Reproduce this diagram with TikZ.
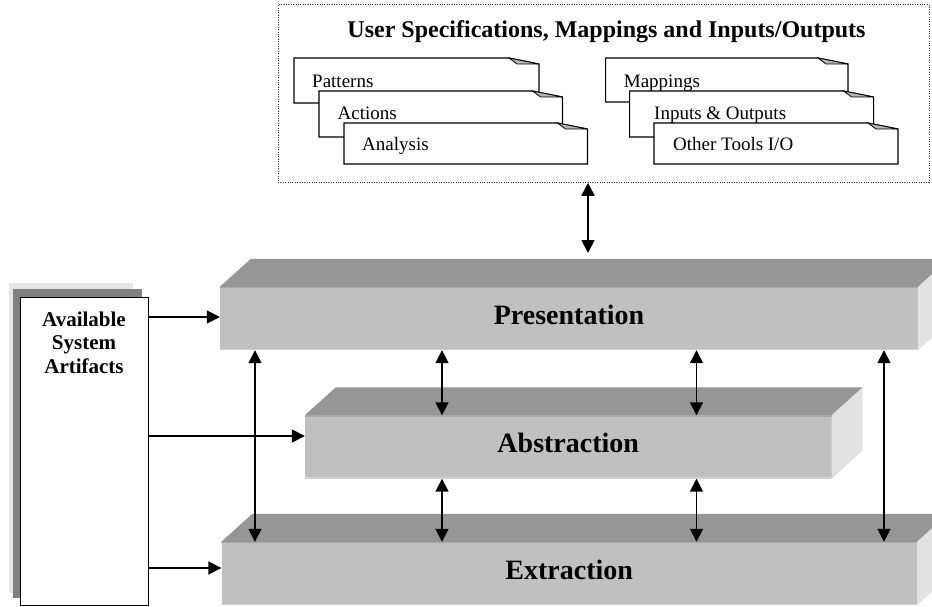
\documentclass[tikz,border=0pt]{standalone}
\usepackage{fontspec}
\setmainfont{Liberation Serif}
\usetikzlibrary{arrows.meta,calc}
\definecolor{topgray}{HTML}{969696}
\definecolor{frontgray}{HTML}{C0C0C0}
\definecolor{sidegray}{HTML}{E2E2E2}
\definecolor{edgedark}{HTML}{A9A9A9}
\definecolor{edgelight}{HTML}{D2D2D2}
\definecolor{shadowdark}{HTML}{808080}
\definecolor{shadowlight}{HTML}{E6E6E6}
\definecolor{flapgray}{HTML}{B4B4B4}
\newcommand\mkpage[4]{%
  \filldraw[pagebox] (#1,#2) -- (#3-30,#2) -- (#3,#2+6) -- (#3,#4) -- (#1,#4) -- cycle;
  \filldraw[flapbox] (#3-30,#2) -- (#3,#2+6) -- (#3-22,#2+6) -- cycle;}
\newcommand\mkslab[1]{%
  \fill[topgray] (#1.north west) -- ++(31,-28) -- ($(#1.north east)+(31,-28)$) -- (#1.north east) -- cycle;
  \fill[sidegray] (#1.north east) -- ++(31,-28) -- ++(0,63) -- (#1.south east) -- cycle;
  \draw[edgedark,line width=1.5pt] ([yshift=-0.75pt]#1.north west) -- ([yshift=-0.75pt]#1.north east);
  \draw[edgelight,line width=1.5pt] ([yshift=0.75pt]#1.south west) -- ([yshift=0.75pt]#1.south east);}
\begin{document}
\begin{tikzpicture}[x=1pt,y=-1pt,
  conn/.style={line width=1.7pt,-{Triangle[length=13pt,width=13pt]}},
  dconn/.style={line width=1.7pt,{Triangle[length=13pt,width=13pt]}-{Triangle[length=13pt,width=13pt]}},
  slabface/.style={fill=frontgray,inner sep=0pt,minimum height=63pt},
  slablabel/.style={font=\fontsize{28}{32}\selectfont\bfseries, yshift=4pt, inner sep=0pt},
  doctext/.style={font=\fontsize{19}{22}\selectfont, anchor=base west, inner sep=0pt},
  pagebox/.style={fill=white,draw=black,line width=1.1pt,line join=miter},
  flapbox/.style={fill=flapgray,draw=black,line width=0.8pt,line join=miter},
]
\useasboundingbox (0,0) rectangle (932,607);
\clip (0,0) rectangle (932,607);

% specification box
\node[draw=black!80, dash pattern=on 0.8pt off 1.6pt, line width=0.8pt, minimum width=651pt, minimum height=178pt, anchor=north west, inner sep=0pt] (spec) at (277.6,4) {};
\node[font=\fontsize{24}{28}\selectfont\bfseries, anchor=base, inner sep=0pt] (title) at (606.5,37.5) {User Specifications, Mappings and Inputs/Outputs};

\mkpage{294}{58}{539}{103}
\node[doctext] (patterns) at (312,87.3) {Patterns};
\mkpage{319}{91}{562.5}{137}
\node[doctext] (actions) at (337.5,119.3) {Actions};
\mkpage{344}{123}{587.5}{164}
\node[doctext] (analysis) at (362,150.7) {Analysis};

\mkpage{605.6}{58}{848}{102}
\node[doctext] (mappings) at (623.7,87.3) {Mappings};
\mkpage{629.6}{91}{873.6}{137}
\node[doctext] (inout) at (654,119.3) {Inputs \& Outputs};
\mkpage{654}{123}{898}{164}
\node[doctext] (other) at (673,150.7) {Other Tools I/O};

% slabs
\node[slabface, minimum width=698pt] (pres) at (569,318.5) {};
\mkslab{pres}
\node[slablabel] (prest) at (pres.center) {Presentation};

\node[slabface, minimum width=526.5pt] (abst) at (568.25,447) {};
\mkslab{abst}
\node[slablabel] (abstt) at (abst.center) {Abstraction};

\node[slabface, minimum width=695.5pt] (extr) at (569.25,573.5) {};
\mkslab{extr}
\node[slablabel] (extrt) at (extr.center) {Extraction};

% artifacts box
\fill[shadowlight] (9,283) rectangle (133,593);
\fill[shadowdark] (13,289) rectangle (142,598);
\node[draw=black, line width=1.2pt, fill=white, minimum width=128pt, minimum height=308pt, anchor=north west, inner sep=0pt] (art) at (20,297) {};
\node[font=\fontsize{21}{23.5}\selectfont\bfseries, align=center, anchor=north, inner sep=0pt] (artt) at (84,311.5) {Available\\System\\Artifacts};

% connectors
\coordinate (yA) at (0,317);
\coordinate (yB) at (0,436);
\coordinate (yC) at (0,568);
\coordinate (xa) at (255,0);
\coordinate (xb) at (442,0);
\coordinate (xc) at (696.5,0);
\coordinate (xd) at (884,0);
\coordinate (presTop) at (588,253);

\draw[conn] (art.east |- yA) -- (pres.west |- yA);
\draw[conn] (art.east |- yB) -- (abst.west |- yB);
\draw[conn] (art.east |- yC) -- (extr.west |- yC);

\draw[dconn] (presTop |- spec.south) -- (presTop);
\draw[dconn] (xa |- pres.south) -- (xa |- extr.north);
\draw[dconn] (xd |- pres.south) -- (xd |- extr.north);
\draw[dconn] (xb |- pres.south) -- (xb |- abst.north);
\draw[dconn] (xc |- pres.south) -- (xc |- abst.north);
\draw[dconn] (xb |- abst.south) -- (xb |- extr.north);
\draw[dconn] (xc |- abst.south) -- (xc |- extr.north);
\end{tikzpicture}
\end{document}
